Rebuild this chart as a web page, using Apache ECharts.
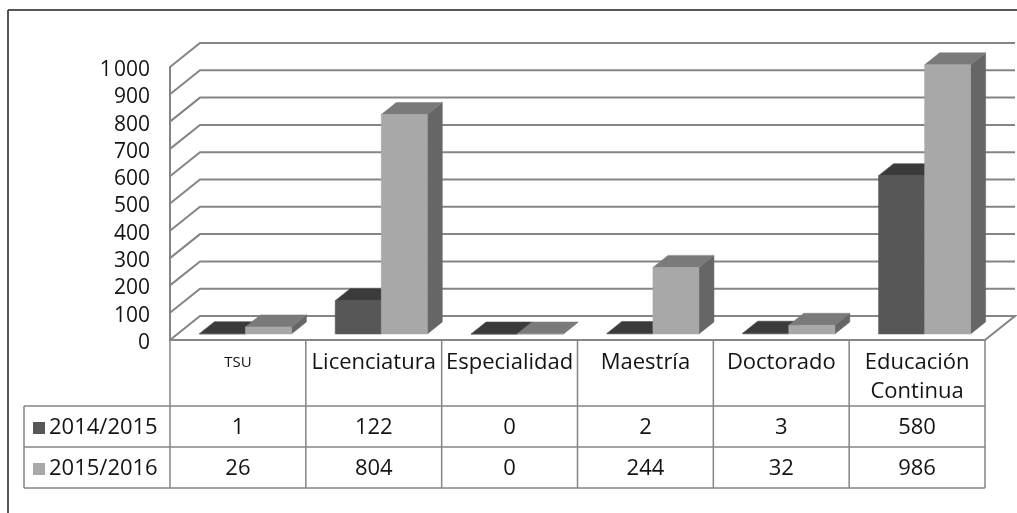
<!DOCTYPE html>
<html><head><meta charset="utf-8">
<style>html,body{margin:0;padding:0;background:#fff}#c{width:1017px;height:513px}</style>
<script src="https://cdn.jsdelivr.net/npm/echarts@6/dist/echarts.min.js"></script>
</head><body><div id="c"></div>
<script>
const categories = ['TSU','Licenciatura','Especialidad','Maestría','Doctorado','Educación\nContinua'];
const seriesNames = ['2014/2015','2015/2016'];
const values2014 = [1,122,0,2,3,580];
const values2015 = [26,804,0,244,32,986];
const yTicks = [0,100,200,300,400,500,600,700,800,900,1000];

const FONT = '"Open Sans"';
const GRID = {left:170,right:32,top:67,bottom:173};
const DX = 30, DY = 24, LINE = '#858585', TXT = '#141414';
const COLS = [{front:'#575757',top:'#3b3b3b',side:'#363636'},{front:'#a8a8a8',top:'#7a7a7a',side:'#666666'}];

function barRender(k){
  return function(params,api){
    const i = api.value(0), v = api.value(1);
    const base = api.coord([i,0]), tip = api.coord([i,v]);
    const w = api.size([1,0])[0]*0.339;
    const ox = DX/4, oy = DY/4, dx = DX/2, dy = DY/2;
    const x0 = base[0]+ox-(k===0?w:0), x1 = x0+w;
    const yb = base[1]-oy, yt = tip[1]-oy;
    const c = COLS[k];
    const poly = (pts,fill)=>({type:'polygon',shape:{points:pts},style:{fill:fill,stroke:fill,lineWidth:0.5}});
    return {type:'group',children:[
      poly([[x1,yb],[x1+dx,yb-dy],[x1+dx,yt-dy],[x1,yt]],c.side),
      poly([[x0,yt],[x1,yt],[x1+dx,yt-dy],[x0+dx,yt-dy]],c.top),
      poly([[x0,yb],[x1,yb],[x1,yt],[x0,yt]],c.front)
    ]};
  };
}
function wallRender(params,api){
  const v = api.value(1), cs = params.coordSys;
  const p = api.coord([0,v]);
  const left = cs.x, right = cs.x+cs.width, y = p[1];
  const pts = [[left,y],[left+DX,y-DY],[right+DX,y-DY]];
  if(v===0) pts.push([right,y]);
  return {type:'polyline',shape:{points:pts},style:{fill:null,stroke:LINE,lineWidth:2}};
}

const cw = (1017-GRID.left-GRID.right)/categories.length;
const rowY = [406,447,488], rowMid = [427,468];
const gfx = [];
const ln = (x1,y1,x2,y2,c,lw)=>gfx.push({type:'line',shape:{x1,y1,x2,y2},style:{stroke:c||LINE,lineWidth:lw||1.5},silent:true});
ln(8,513,8,10,'#555',2); ln(8,10,1017,10,'#555',2);
for(let i=0;i<=categories.length;i++) ln(GRID.left+i*cw,340,GRID.left+i*cw,rowY[2]);
rowY.forEach(y=>ln(24,y,GRID.left+categories.length*cw,y));
ln(24,rowY[0],24,rowY[2]);
[values2014,values2015].forEach((arr,r)=>{
  arr.forEach((v,i)=>gfx.push({type:'text',x:GRID.left+(i+.5)*cw,y:rowMid[r]+1,silent:true,
    style:{text:String(v),fill:TXT,font:'22px '+FONT,textAlign:'center',textVerticalAlign:'middle'}}));
});

const chart = echarts.init(document.getElementById('c'),null,{renderer:'canvas'});
chart.setOption({
  animation:false,
  backgroundColor:'#fff',
  grid:GRID,
  legend:{data:seriesNames,orient:'vertical',left:28,top:410,itemWidth:12,itemHeight:12,itemGap:15,selectedMode:false,
    icon:'rect',textStyle:{fontFamily:FONT,fontSize:22,color:TXT,padding:[0,0,0,-1],lineHeight:26}},
  xAxis:{type:'category',data:categories,
    axisLine:{show:true,lineStyle:{color:LINE,width:2}},axisTick:{show:false},
    axisLabel:{interval:0,margin:8,fontFamily:FONT,fontSize:22,color:TXT,lineHeight:29,
      formatter:(v)=>v==='TSU'?'{s|TSU}':v,
      rich:{s:{fontFamily:FONT,fontSize:15,color:TXT,lineHeight:30}}}},
  yAxis:{type:'value',min:0,max:1000,interval:100,
    axisLine:{show:true,lineStyle:{color:LINE,width:2}},axisTick:{show:false},splitLine:{show:false},
    axisLabel:{margin:20,fontFamily:FONT,fontSize:21,color:TXT,verticalAlign:'top',lineHeight:6,
      formatter:(v)=>v===1000?'1\u200a000':String(v)}},
  graphic:gfx,
  series:[
    {type:'custom',name:'wall',data:yTicks.map(t=>[0,t]),renderItem:wallRender,silent:true,z:1},
    {type:'custom',name:seriesNames[0],data:values2014.map((v,i)=>[i,v]),renderItem:barRender(0),itemStyle:{color:COLS[0].front},encode:{x:0,y:1},z:2},
    {type:'custom',name:seriesNames[1],data:values2015.map((v,i)=>[i,v]),renderItem:barRender(1),itemStyle:{color:COLS[1].front},encode:{x:0,y:1},z:3}
  ]
});
</script></body></html>
